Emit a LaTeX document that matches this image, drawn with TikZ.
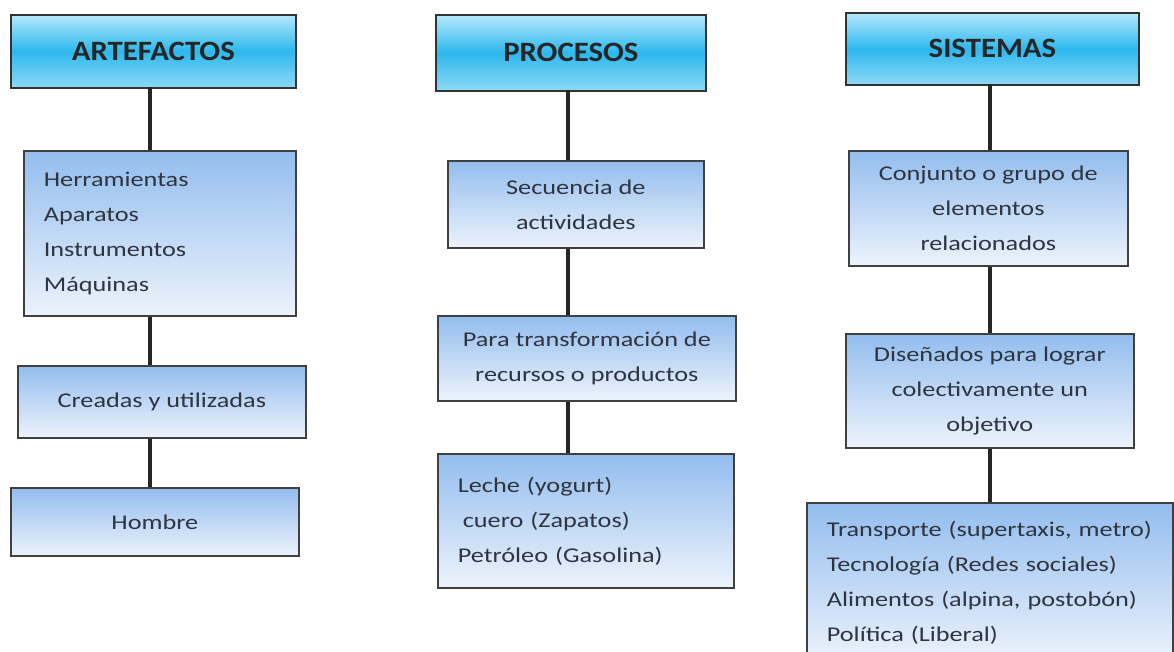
\documentclass[tikz,border=0pt]{standalone}
\usepackage{fontspec}
\setmainfont{Carlito}[FakeStretch=1.25]
\newfontfamily\hdrfont{Carlito}[FakeStretch=1.1]
\definecolor{hdrtop}{HTML}{B5E8FB}
\definecolor{hdrmid}{HTML}{2DB8EE}
\definecolor{hdrbot}{HTML}{8ED9F6}
\definecolor{boxtop}{HTML}{93BDEE}
\definecolor{boxbot}{HTML}{EDF3FC}
\definecolor{txt}{HTML}{2E3440}
\tikzset{
  hdr/.style={draw=black!80, line width=1.8pt, top color=hdrtop, bottom color=hdrbot, middle color=hdrmid,
    anchor=north west, inner sep=0pt, font=\hdrfont\bfseries\fontsize{28}{30}\selectfont, text=black!85},
  box/.style={draw=black!75, line width=1.7pt, top color=boxtop, bottom color=boxbot,
    anchor=north west, inner sep=0pt, font=\fontsize{21}{35}\selectfont, text=txt, align=center},
  lbox/.style={box, align=left, inner xsep=20pt},
  link/.style={line width=3.2pt, draw=black!85}
}
\begin{document}
\begin{tikzpicture}[x=1pt,y=-1pt]
\useasboundingbox (0,0) rectangle (1174,651);
% left column
\node[hdr, minimum width=285pt, minimum height=73pt] (a0) at (10,14) {ARTEFACTOS};
\node[lbox, minimum width=272pt, minimum height=165pt, text width=232pt] (a1) at (23,150)
  {Herramientas\\Aparatos\\Instrumentos\\Máquinas};
\node[box, minimum width=288pt, minimum height=72pt] (a2) at (17,365) {Creadas y utilizadas};
\node[box, minimum width=288pt, minimum height=68pt] (a3) at (10,487) {Hombre};
\draw[link] (150,87) coordinate (a0s) -- (a0s |- a1.north);
\draw[link] (a1.south -| a0s) -- (a0s |- a2.north);
\draw[link] (a2.south -| a0s) -- (a0s |- a3.north);
% middle column
\node[hdr, minimum width=270pt, minimum height=76pt] (p0) at (435,14) {PROCESOS};
\node[box, minimum width=256pt, minimum height=87pt] (p1) at (447,160) {Secuencia de\\actividades};
\node[box, minimum width=298pt, minimum height=85pt] (p2) at (437,315) {Para transformación de\\recursos o productos};
\node[lbox, minimum width=296pt, minimum height=134pt, text width=256pt] (p3) at (437,453)
  {Leche (yogurt)\\\hspace*{5pt}cuero (Zapatos)\\Petróleo (Gasolina)};
\draw[link] (568,90) coordinate (p0s) -- (p0s |- p1.north);
\draw[link] (p1.south -| p0s) -- (p0s |- p2.north);
\draw[link] (p2.south -| p0s) -- (p0s |- p3.north);
% right column
\node[hdr, minimum width=293pt, minimum height=72pt] (s0) at (845,12) {SISTEMAS};
\node[box, minimum width=279pt, minimum height=115pt] (s1) at (848,150) {Conjunto o grupo de\\elementos\\relacionados};
\node[box, minimum width=288pt, minimum height=114pt] (s2) at (845,333) {Diseñados para lograr\\colectivamente un\\objetivo};
\node[lbox, minimum width=366pt, minimum height=160pt, text width=326pt] (s3) at (806,502)
  {Transporte (supertaxis, metro)\\Tecnología (Redes sociales)\\Alimentos (alpina, postobón)\\Política (Liberal)};
\draw[link] (990,84) coordinate (s0s) -- (s0s |- s1.north);
\draw[link] (s1.south -| s0s) -- (s0s |- s2.north);
\draw[link] (s2.south -| s0s) -- (s0s |- s3.north);
\end{tikzpicture}
\end{document}
